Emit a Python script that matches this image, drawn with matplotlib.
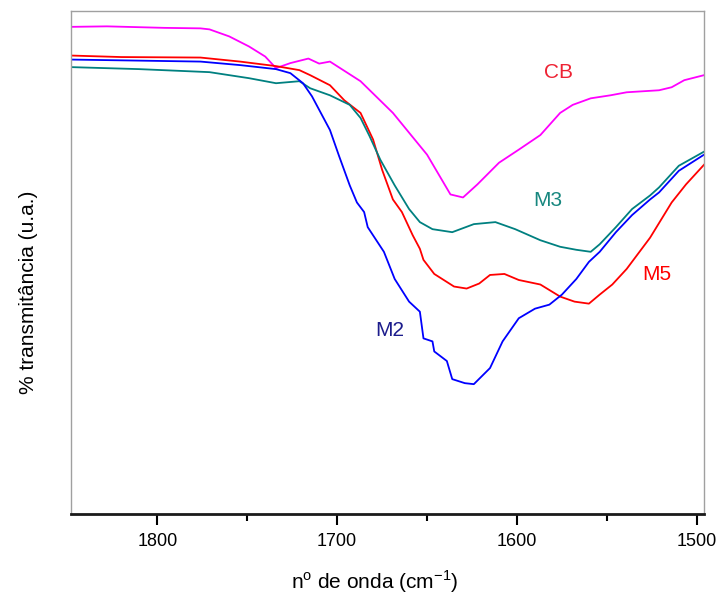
import matplotlib
matplotlib.use('Agg')
import matplotlib.pyplot as plt
from matplotlib.ticker import MultipleLocator

plt.rcParams['font.family'] = ['Liberation Sans', 'DejaVu Sans']
plt.rcParams['mathtext.fontset'] = 'custom'
plt.rcParams['mathtext.rm'] = 'Liberation Sans'

# CB (magenta)
cb_x = [1848, 1828, 1796, 1776, 1771, 1760, 1749, 1740, 1734, 1726, 1716, 1710, 1704,
        1687, 1669, 1650, 1637, 1630, 1622, 1610, 1599, 1587, 1576, 1569, 1559,
        1548, 1539, 1530, 1521, 1514, 1507, 1496]
cb_y = [96.8, 96.9, 96.6, 96.5, 96.3, 94.9, 92.9, 90.9, 88.6, 89.6, 90.5, 89.5, 89.9,
        86.0, 79.7, 71.4, 63.5, 62.9, 65.5, 69.8, 72.4, 75.3, 79.7, 81.3, 82.6,
        83.2, 83.8, 84.0, 84.2, 84.8, 86.2, 87.2]

# M5 (red)
m5_x = [1848, 1820, 1776, 1754, 1734, 1721, 1715, 1704, 1696, 1687, 1680, 1675, 1669,
        1664, 1658, 1654, 1652, 1646, 1635, 1628, 1621, 1615, 1607, 1599, 1587,
        1576, 1568, 1560, 1554, 1547, 1539, 1526, 1514, 1506, 1496]
m5_y = [91.1, 90.8, 90.7, 89.9, 89.0, 88.2, 87.2, 85.2, 82.2, 79.7, 74.4, 68.4, 62.5,
        60.0, 55.4, 52.7, 50.5, 47.7, 45.2, 44.8, 45.8, 47.5, 47.7, 46.5, 45.6,
        43.2, 42.2, 41.8, 43.6, 45.6, 48.7, 54.9, 61.9, 65.5, 69.4]

# M2 (blue)
m2_x = [1848, 1776, 1754, 1734, 1726, 1719, 1714, 1704, 1699, 1693, 1689, 1685, 1683,
        1674, 1668, 1660, 1654, 1652, 1647, 1646, 1639, 1636, 1629, 1624, 1615,
        1608, 1599, 1590, 1582, 1575, 1567, 1560, 1554, 1545, 1536, 1526, 1521,
        1510, 1496]
m2_y = [90.3, 89.9, 89.2, 88.4, 87.6, 85.6, 83.0, 76.3, 71.2, 65.3, 61.9, 60.0, 57.0,
        52.1, 46.7, 42.2, 40.2, 34.9, 34.3, 32.3, 30.4, 26.8, 26.0, 25.8, 29.0,
        34.3, 38.9, 40.8, 41.6, 43.6, 46.7, 50.1, 52.1, 56.0, 59.4, 62.5, 63.9,
        68.2, 71.4]

# M3 (teal)
m3_x = [1848, 1810, 1771, 1749, 1734, 1721, 1715, 1704, 1693, 1687, 1682, 1676, 1668,
        1660, 1654, 1647, 1636, 1624, 1612, 1601, 1587, 1576, 1567, 1559, 1554,
        1545, 1536, 1526, 1521, 1510, 1496]
m3_y = [88.8, 88.4, 87.8, 86.6, 85.6, 86.0, 84.6, 83.2, 81.3, 78.7, 75.1, 70.4, 65.3,
        60.6, 58.0, 56.6, 56.0, 57.6, 58.0, 56.6, 54.4, 53.1, 52.5, 52.1, 53.6,
        57.0, 60.6, 63.3, 64.9, 69.2, 72.0]

labels = ['CB', 'M3', 'M5', 'M2']
label_x = [1577, 1583, 1522, 1671]
label_y = [87.8, 62.3, 47.5, 36.5]
label_colors = ['#ee2233', '#17877f', '#ff0000', '#1c1c8c']

fig = plt.figure(figsize=(7.2, 6.04), dpi=100)
ax = fig.add_axes([0.0986, 0.149, 0.8792, 0.8332])

ax.plot(cb_x, cb_y, color='#ff00ff', lw=1.3)
ax.plot(m5_x, m5_y, color='#ff0000', lw=1.3)
ax.plot(m3_x, m3_y, color='#008080', lw=1.3)
ax.plot(m2_x, m2_y, color='#0000ff', lw=1.3)

for t, x, y, c in zip(labels, label_x, label_y, label_colors):
    ax.text(x, y, t, color=c, fontsize=15, ha='center', va='center')

ax.set_xlim(1848, 1496)
ax.set_ylim(0, 100)

ax.xaxis.set_major_locator(MultipleLocator(100))
ax.xaxis.set_minor_locator(MultipleLocator(50))
ax.tick_params(axis='x', which='major', direction='out', length=8, width=1.5,
               labelsize=13, pad=6)
ax.tick_params(axis='x', which='minor', direction='out', length=5, width=1.5)
ax.set_yticks([])

for s in ['left', 'top', 'right']:
    ax.spines[s].set_color('#a0a0a0')
    ax.spines[s].set_linewidth(1.0)
ax.spines['bottom'].set_color('#1a1a1a')
ax.spines['bottom'].set_linewidth(2.0)

ax.set_xlabel(r'n$^{\mathrm{o}}$ de onda (cm$^{\mathrm{-1}}$)', fontsize=15)
ax.xaxis.set_label_coords(0.48, -0.108)
ax.set_ylabel('% transmitância (u.a.)', fontsize=15)
ax.yaxis.set_label_coords(-0.052, 0.44)

fig.savefig('out.png', dpi=100)
